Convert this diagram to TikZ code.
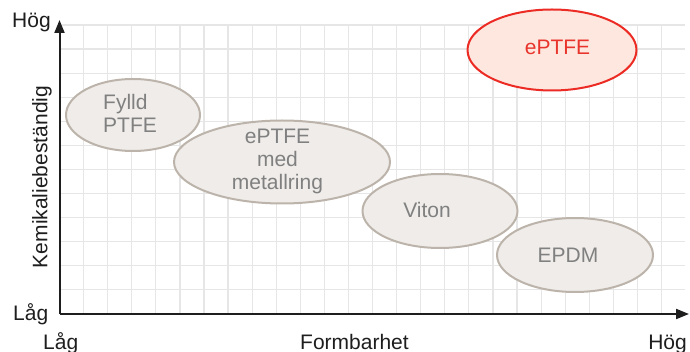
\documentclass[tikz,border=0pt]{standalone}
\usepackage{fontspec}
\setmainfont{Liberation Sans}
\usetikzlibrary{shapes.geometric,arrows.meta}
\definecolor{gridc}{HTML}{E6E6E6}
\definecolor{axisc}{HTML}{1E1E1E}
\definecolor{grayfill}{HTML}{EFECE9}
\definecolor{graydraw}{HTML}{BCB4AB}
\definecolor{graytext}{HTML}{808080}
\definecolor{redfill}{HTML}{FDE7DE}
\definecolor{reddraw}{HTML}{EC2B24}
\definecolor{redtext}{HTML}{E8342C}
\tikzset{
  txt/.style={font=\fontsize{21}{23}\selectfont, text=axisc, inner sep=0pt},
  blob/.style={ellipse, draw=graydraw, fill=grayfill, line width=2pt, inner sep=0pt},
  redblob/.style={blob, draw=reddraw, fill=redfill},
  btxt/.style={txt, text=graytext},
  rtxt/.style={txt, text=redtext},
  axisline/.style={draw=axisc, line width=2pt, -{Triangle[length=13pt,width=10pt]}}
}
\begin{document}
\begin{tikzpicture}[x=1pt,y=-1pt]
\useasboundingbox (0,0) rectangle (690,352);
% grid
\foreach \i in {1,...,25} \draw[gridc, line width=1.2pt] ({59.5+24.08*\i},25) -- ({59.5+24.08*\i},314);
\foreach \j in {0,...,11} \draw[gridc, line width=1.2pt] (59.5,{25+24.08*\j}) -- (685,{25+24.08*\j});
% axes
\coordinate (O) at (59.5,314);
\coordinate (Ytop) at (59.5,20);
\coordinate (Xend) at (689,314);
\draw[axisline] (O) -- (Ytop);
\draw[axisline] (O) -- (Xend);
% axis labels
\node[txt, anchor=base west] (yhog) at (12,28) {Hög};
\node[txt, anchor=base west] (ylag) at (13,320) {Låg};
\node[txt, anchor=base west] (xlag) at (43,349) {Låg};
\node[txt, anchor=base] (xlab) at (354.5,349) {Formbarhet};
\node[txt, anchor=base east] (xhog) at (687,349) {Hög};
\node[txt, rotate=90] (ylab) at (42,177) {Kemikaliebeständig};
% ellipses
\node[blob, minimum width=134pt, minimum height=72pt] (fylld) at (133,115) {};
\node[blob, minimum width=216pt, minimum height=83pt] (med) at (282,162) {};
\node[blob, minimum width=155pt, minimum height=74pt] (viton) at (440,211) {};
\node[blob, minimum width=156pt, minimum height=74pt] (epdm) at (575,255) {};
\node[redblob, minimum width=169pt, minimum height=81pt] (eptfe) at (552,50) {};
% ellipse texts
\node[btxt, anchor=base west, align=left] (tfylld) at (103,133) {Fylld\\PTFE};
\node[btxt, anchor=base, align=center] (tmed) at (277.5,190) {ePTFE\\med\\metallring};
\node[btxt, anchor=base] (tviton) at (427,218) {Viton};
\node[btxt, anchor=base] (tepdm) at (568,263) {EPDM};
\node[rtxt, anchor=base] (teptfe) at (557.5,55) {ePTFE};
\end{tikzpicture}
\end{document}
